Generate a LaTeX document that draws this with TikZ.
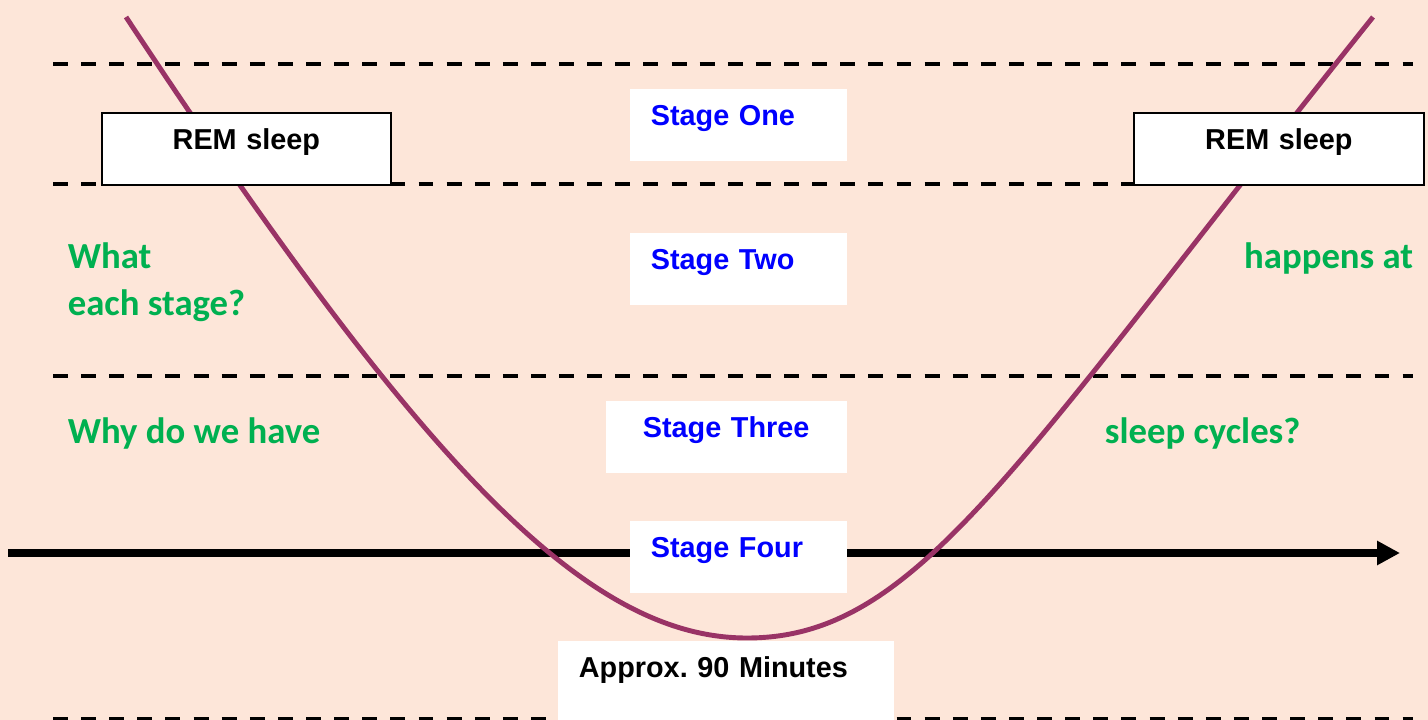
\documentclass[tikz,border=0pt]{standalone}
\usepackage{fontspec}
\setmainfont{Liberation Sans}
\newfontfamily\carlito{Carlito}
\frenchspacing
\usetikzlibrary{arrows.meta}
\definecolor{cbg}{HTML}{FDE6D9}
\definecolor{cblue}{HTML}{0000FF}
\definecolor{cgreen}{HTML}{00B050}
\definecolor{cplum}{HTML}{993366}
\tikzset{
  every picture/.style={line width=1pt},
  band/.style={draw=black, line width=2.3pt, dash pattern=on 8.5pt off 7.5pt},
  timeline/.style={-{Triangle[length=13pt, width=13pt]}, draw=black, line width=4pt},
  cycle/.style={draw=cplum, line width=2.8pt},
  stagebox/.style={fill=white, text=cblue, font=\bfseries\fontsize{16.4}{19.7}\selectfont,
    anchor=north west, align=left, inner ysep=0pt, inner xsep=4.2mm, text width=35mm,
    text height=7.3mm, text depth=7.2mm},
  rembox/.style={draw=black, fill=white, font=\bfseries\fontsize{16.4}{19.7}\selectfont,
    anchor=north west, align=center, inner sep=0pt, text width=#1,
    text height=7.4mm, text depth=7mm},
  ask/.style={text=cgreen, font=\carlito\bfseries\fontsize{20.9}{26.6}\selectfont,
    inner sep=0pt, align=left},
}
\begin{document}
\begin{tikzpicture}[x=0.2mm, y=-0.2mm]
  \fill[cbg] (0,0) rectangle (1428,720);
  \useasboundingbox (0,0) rectangle (1428,720);
  % stage borders
  \foreach \y in {64,184,376,719} \draw[band] (53,\y) -- (1413,\y);
  \coordinate (t0) at (8,553);
  \coordinate (t1) at (1400,553);
  \draw[timeline] (t0) -- (t1);
  % one sleep cycle
  \coordinate (c0) at (126,17);
  \coordinate (deep) at (747,638);
  \coordinate (c1) at (1373,17);
  \draw[cycle] (c0) .. controls (423,467) and (587,638) .. (deep)
    .. controls (917,638) and (1013,467) .. (c1);
  \node[stagebox] (s1) at (629,88) {Stage One};
  \node[stagebox] (s2) at (629,232) {Stage Two};
  \node[stagebox, inner xsep=7.4mm, text width=33.4mm] (s3) at (605,400) {Stage Three};
  \node[stagebox] (s4) at (629,520) {Stage Four};
  \node[stagebox, text=black, text width=58.8mm, text depth=10mm] (len) at (557,640) {Approx. 90 Minutes};
  \node[rembox=57.8mm] (rem1) at (101,112) {REM sleep};
  \node[rembox=58mm] (rem2) at (1133,112) {REM sleep};
  \node[ask, anchor=base west] (q1) at (67,315) {What\\each stage?};
  \node[ask, anchor=base east] (q2) at (1414,268) {happens at};
  \node[ask, anchor=base west] (q3) at (67,443) {Why do we have};
  \node[ask, anchor=base west] (q4) at (1104,443) {sleep cycles?};
\end{tikzpicture}
\end{document}
